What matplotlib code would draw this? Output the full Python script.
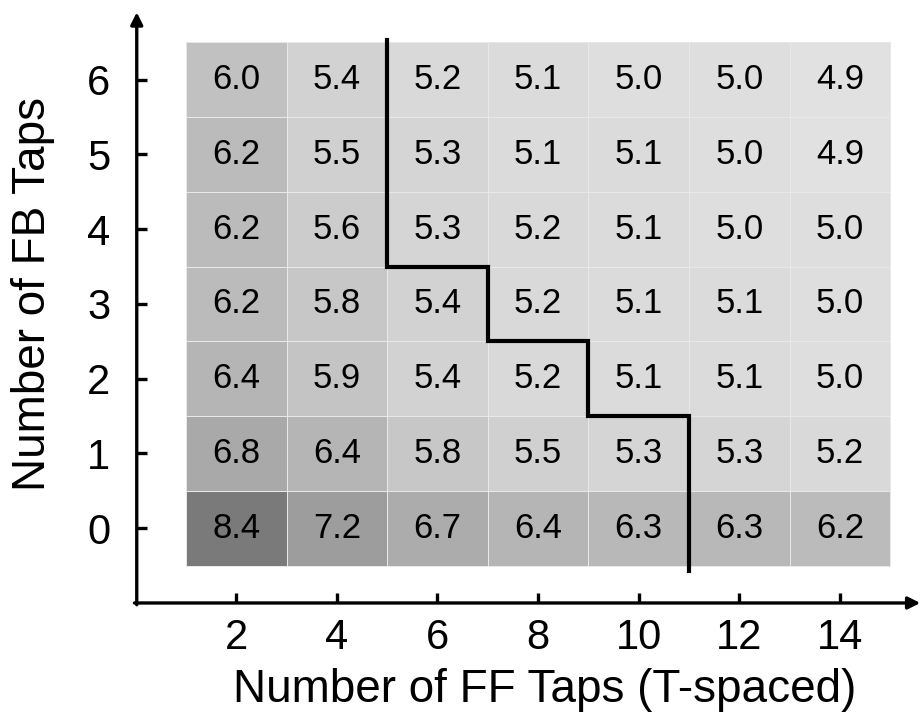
import numpy as np
import matplotlib
matplotlib.use("Agg")
import matplotlib.pyplot as plt
from matplotlib.colors import LinearSegmentedColormap

plt.rcParams['font.family'] = ['Liberation Sans', 'DejaVu Sans']

ff_taps = [2, 4, 6, 8, 10, 12, 14]
fb_taps = [0, 1, 2, 3, 4, 5, 6]

# rows: FB taps 0..6, columns: FF taps 2..14
snr = [
    [8.4, 7.2, 6.7, 6.4, 6.3, 6.3, 6.2],
    [6.8, 6.4, 5.8, 5.5, 5.3, 5.3, 5.2],
    [6.4, 5.9, 5.4, 5.2, 5.1, 5.1, 5.0],
    [6.2, 5.8, 5.4, 5.2, 5.1, 5.1, 5.0],
    [6.2, 5.6, 5.3, 5.2, 5.1, 5.0, 5.0],
    [6.2, 5.5, 5.3, 5.1, 5.1, 5.0, 4.9],
    [6.0, 5.4, 5.2, 5.1, 5.0, 5.0, 4.9],
]

# left-most FF tap count of the region right of the boundary, per FB row
boundary_ff = [12, 12, 10, 8, 6, 6, 6]

fig = plt.figure(figsize=(9.24, 7.23), dpi=100)
ax = fig.add_axes([0.148, 0.166, 0.848, 0.817])

z = np.array(snr)
xe = np.concatenate([[ff_taps[0] - 1], np.array(ff_taps) + 1])
ye = np.concatenate([[fb_taps[0] - 0.5], np.array(fb_taps) + 0.5])
cmap = LinearSegmentedColormap.from_list('g', ['#e1e1e1', '#7a7a7a'])
ax.pcolormesh(xe, ye, z, cmap=cmap, vmin=4.9, vmax=8.4,
              edgecolor='#e8e8e8', linewidth=0.6)

for i, fb in enumerate(fb_taps):
    for j, ff in enumerate(ff_taps):
        ax.text(ff, fb, f"{snr[i][j]:.1f}", ha='center', va='center',
                fontsize=25, color='black')

# step boundary
bx, by = [], []
n = len(fb_taps)
top = fb_taps[-1] + 0.53
bx.append(boundary_ff[-1] - 1); by.append(top)
for i in range(n - 1, 0, -1):
    xb = boundary_ff[i] - 1
    ylev = fb_taps[i] - 0.5
    xn = boundary_ff[i - 1] - 1
    if xn != xb:
        bx.append(xb); by.append(ylev)
        bx.append(xn); by.append(ylev)
bx.append(boundary_ff[0] - 1); by.append(fb_taps[0] - 0.57)
ax.plot(bx, by, color='black', lw=3.0, solid_joinstyle='miter', zorder=5)

ax.set_xlim(0.02, 15.6)
ax.set_ylim(-1.0, 6.9)
for s in ax.spines.values():
    s.set_visible(False)

ax.annotate('', xy=(1.0, 0), xytext=(-0.003, 0), xycoords='axes fraction',
            arrowprops=dict(arrowstyle='-|>', lw=2.4, color='black',
                            mutation_scale=18, shrinkA=0, shrinkB=0))
ax.annotate('', xy=(0, 1.0), xytext=(0, -0.003), xycoords='axes fraction',
            arrowprops=dict(arrowstyle='-|>', lw=2.4, color='black',
                            mutation_scale=18, shrinkA=0, shrinkB=0))

ax.set_xticks(ff_taps)
ax.set_yticks(fb_taps)
ax.tick_params(direction='in', length=7, width=2.4, labelsize=30)
ax.tick_params(axis='x', pad=11)
ax.tick_params(axis='y', pad=19)
ax.set_xlabel('Number of FF Taps (T-spaced)', fontsize=33, va='center')
ax.set_ylabel('Number of FB Taps', fontsize=33, va='center')
ax.xaxis.set_label_coords(0.52, -0.147)
ax.yaxis.set_label_coords(-0.133, 0.523)

fig.savefig('out.png', dpi=100)
